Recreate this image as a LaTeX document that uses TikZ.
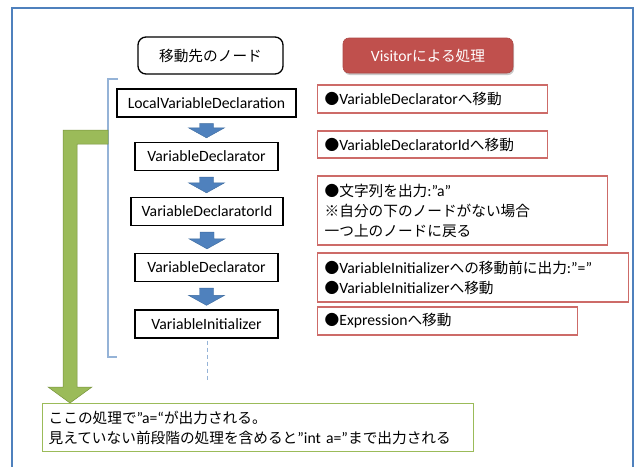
\documentclass[tikz,border=0pt]{standalone}
\usepackage{fontspec}
\setmainfont{Carlito}[Scale=1.07]
\newfontfamily\jp{Noto Sans CJK JP}
\usetikzlibrary{calc,shadows}
\definecolor{frameblue}{HTML}{4F81BD}
\definecolor{arrblue}{HTML}{4F81BD}
\definecolor{arrbluedark}{HTML}{3C6A9E}
\definecolor{brkblue}{HTML}{95B3D7}
\definecolor{redfill}{HTML}{C0504D}
\definecolor{redline}{HTML}{CD6B68}
\definecolor{grfill}{HTML}{9BBB59}
\definecolor{grline}{HTML}{77933C}
\definecolor{grbox}{HTML}{9BBB59}
\tikzset{
  base/.style={font=\fontsize{14.67}{20}\selectfont, inner sep=0pt},
  treenode/.style={base, draw=black, line width=1.3pt, minimum height=28pt, align=center},
  titlebox/.style={base, draw=black, line width=1.3pt, rounded corners=8pt},
  visbox/.style={base, fill=redfill, draw=redfill!90!black, line width=0.6pt, rounded corners=6pt, text=white,
     drop shadow={shadow xshift=1pt, shadow yshift=-2pt, fill=black!35, opacity=0.6}},
  redbox/.style={base, draw=redline, line width=1.4pt, align=left, inner xsep=7pt, anchor=west},
  notebox/.style={base, draw=grbox, line width=1.4pt, align=left, inner xsep=6pt, anchor=north west, fill=white},
  bluearr/.style={fill=arrblue, draw=arrbluedark, line width=0.4pt},
  greenarr/.style={fill=grfill, draw=grline, line width=0.5pt},
  bracketline/.style={draw=brkblue, line width=1.2pt},
  dashline/.style={draw=brkblue, line width=1.4pt, dash pattern=on 4pt off 3pt},
}
\newcommand\blockarr[2]{%
  \path[bluearr] let \p1=(#1.south), \p2=(#2.north) in
    (\x1-7pt,\y1-6pt) -- (\x1+7pt,\y1-6pt) -- (\x1+7pt,\y2+14pt) -- (\x1+18pt,\y2+14pt)
    -- (\x1,\y2+4pt) -- (\x1-18pt,\y2+14pt) -- (\x1-7pt,\y2+14pt) -- cycle;}
\begin{document}
\begin{tikzpicture}[x=1pt,y=-1pt]
\useasboundingbox (0,0) rectangle (637,466);
% outer frame
\draw[frameblue, line width=1.5pt] (12,470) -- (12,8) -- (633,8) -- (633,470);

% titles
\node[titlebox, minimum width=145pt, minimum height=37pt] (t1) at (210.5,55.5) {\jp 移動先のノード};
\node[visbox, minimum width=170pt, minimum height=35pt] (t2) at (428,55.5) {Visitor{\jp による処理}};

% tree nodes
\node[treenode, minimum width=179pt] (lvd) at (206.5,103) {LocalVariableDeclaration};
\node[treenode, minimum width=143pt] (vd1) at (206.5,156.5) {VariableDeclarator};
\node[treenode, minimum width=152pt] (vdi) at (207,211.5) {VariableDeclaratorId};
\node[treenode, minimum width=143pt] (vd2) at (206.5,267.5) {VariableDeclarator};
\node[treenode, minimum width=143pt] (vi) at (206.5,324) {VariableInitializer};

\blockarr{lvd}{vd1}
\blockarr{vd1}{vdi}
\blockarr{vdi}{vd2}
\blockarr{vd2}{vi}

\coordinate (dend) at (207.5,382);
\draw[dashline] (vi.south) ++(1,2) -- (dend);

% bracket
\coordinate (btop) at (118,79);
\coordinate (bbot) at (117,357);
\coordinate (brk) at (108,137);
\draw[bracketline] (btop) -- (108,79) -- (108,357) -- (bbot);

% red boxes
\node[redbox, text width=216pt, minimum height=28pt] (r1) at (317,99) {{\jp ●}VariableDeclarator{\jp へ移動}};
\node[redbox, text width=216pt, minimum height=27pt] (r2) at (317,144.5) {{\jp ●}VariableDeclaratorId{\jp へ移動}};
\node[redbox, text width=276pt, minimum height=69pt] (r3) at (317,210.5) {{\jp ●文字列を出力}:”a”\\{\jp ※自分の下のノードがない場合}\\{\jp 一つ上のノードに戻る}};
\node[redbox, text width=297pt, minimum height=49pt] (r4) at (317,277.5) {{\jp ●}VariableInitializer{\jp への移動前に出力}:”=”\\{\jp ●}VariableInitializer{\jp へ移動}};
\node[redbox, text width=246pt, minimum height=28pt] (r5) at (317,321) {{\jp ●}Expression{\jp へ移動}};

% note box
\node[notebox, text width=419pt, minimum height=48pt] (note) at (42,403) {{\jp ここの処理で}”a=“{\jp が出力される。}\\{\jp 見えていない前段階の処理を含めると}”int a=”{\jp まで出力される}};

% green arrow
\path[greenarr] let \p1=(brk), \p2=(note.north west) in
  (\x1,\y1+7pt) -- (\x2+21pt,\y1+7pt) -- (\x2+21pt,\y2+16pt) -- (\x2+6pt,\y2+16pt)
  -- (\x2+28pt,\y2) -- (\x2+50pt,\y2+16pt) -- (\x2+35pt,\y2+16pt) -- (\x2+35pt,\y1-7pt)
  -- (\x1,\y1-7pt) -- cycle;
\end{tikzpicture}
\end{document}
